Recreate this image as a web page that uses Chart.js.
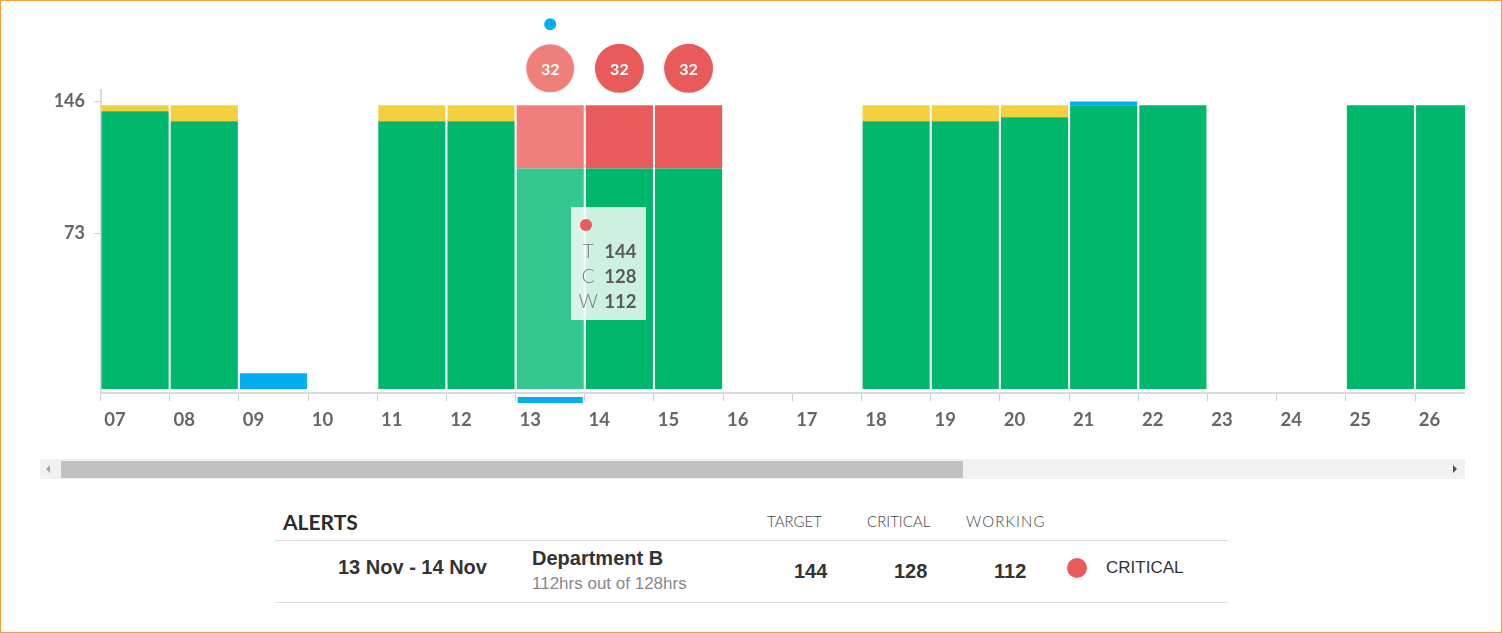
<!DOCTYPE html>
<html><head><meta charset="utf-8">
<script src="https://cdn.jsdelivr.net/npm/chart.js@4.4.1/dist/chart.umd.min.js"></script>
<style>
html,body{margin:0;padding:0;background:#fff;}
body{width:1502px;height:633px;overflow:hidden;position:relative;font-family:Lato,sans-serif;}
#frame{position:absolute;left:0;top:0;width:1500px;height:631px;border:1px solid #F5A03A;pointer-events:none;z-index:20;}
#clip{position:absolute;left:40px;top:0;width:1425px;height:455px;overflow:hidden;}
#c{position:absolute;left:0;top:0;}
#tip{position:absolute;width:75px;height:113px;background:rgba(255,255,255,0.8);z-index:5;display:none;}
#tip .dot{position:absolute;left:9px;top:12px;width:12px;height:12px;border-radius:50%;background:#E95B5B;}
#tip .row{position:absolute;left:0;height:24px;line-height:24px;width:75px;}
#tip .k{position:absolute;left:6px;width:22px;text-align:center;font-weight:300;font-size:19px;color:#777;}
#tip .v{position:absolute;left:33px;font-weight:bold;font-size:18.5px;color:#5a5a5a;}
#track{position:absolute;left:40px;top:459px;width:1425px;height:20px;background:#f1f1f1;}
#thumb{position:absolute;left:61px;top:461px;width:902px;height:17px;background:#c1c1c1;}
#arL{position:absolute;left:46px;top:465px;width:0;height:0;border-top:4px solid transparent;border-bottom:4px solid transparent;border-right:4px solid #a3a3a3;}
#arR{position:absolute;left:1453px;top:465px;width:0;height:0;border-top:4px solid transparent;border-bottom:4px solid transparent;border-left:4px solid #505050;}
.t{position:absolute;white-space:nowrap;}
.hr{position:absolute;left:275px;width:953px;height:1px;background:#dedede;}
.ar{font-family:"Liberation Sans",Arial,sans-serif;}
</style></head><body>
<div id="frame"></div>
<div id="clip"><canvas id="c" width="1450" height="455" style="width:1450px;height:455px"></canvas></div>
<div id="tip">
  <div class="dot"></div>
  <div class="row" style="top:32px"><span class="k">T</span><span class="v" id="tT"></span></div>
  <div class="row" style="top:57px"><span class="k">C</span><span class="v" id="tC"></span></div>
  <div class="row" style="top:82px"><span class="k">W</span><span class="v" id="tW"></span></div>
</div>
<div id="track"></div><div id="thumb"></div><div id="arL"></div><div id="arR"></div>

<div class="t" style="left:283px;top:510px;line-height:24px;font-size:21px;font-weight:bold;color:#2b2b2b;">ALERTS</div>
<div class="t" style="left:767px;top:511px;line-height:20px;font-size:15px;font-weight:300;color:#444;">TARGET</div>
<div class="t" style="left:867px;top:511px;line-height:20px;font-size:15px;font-weight:300;color:#444;">CRITICAL</div>
<div class="t" style="left:966px;top:511px;line-height:20px;font-size:15px;font-weight:300;color:#444;letter-spacing:1.1px;">WORKING</div>
<div class="hr" style="top:540px"></div>
<div class="t ar" style="left:338px;top:555px;line-height:24px;font-size:20px;font-weight:bold;color:#333;">13 Nov - 14 Nov</div>
<div class="t ar" style="left:532px;top:546px;line-height:24px;font-size:20px;font-weight:bold;color:#333;">Department B</div>
<div class="t ar" style="left:532px;top:574px;line-height:20px;font-size:17px;color:#888;">112hrs out of 128hrs</div>
<div class="t ar" style="left:794px;top:559px;line-height:24px;font-size:20px;font-weight:bold;color:#333;">144</div>
<div class="t ar" style="left:894px;top:559px;line-height:24px;font-size:20px;font-weight:bold;color:#333;">128</div>
<div class="t ar" style="left:994px;top:559px;line-height:24px;font-size:20px;font-weight:bold;color:#333;">112</div>
<div style="position:absolute;left:1067px;top:558px;width:20px;height:20px;border-radius:50%;background:#E95B5B;"></div>
<div class="t ar" style="left:1106px;top:558px;line-height:20px;font-size:17px;color:#333;">CRITICAL</div>
<div class="hr" style="top:602px"></div>

<script>
const days      = ['07','08','09','10','11','12','13','14','15','16','17','18','19','20','21','22','23','24','25','26'];
const working   = [141,136,0,0,136,136,112,112,112,0,0,136,136,138,144,144,0,0,144,144];
const shortfall = [3,8,0,0,8,8,0,0,0,0,0,8,8,6,0,0,0,0,0,0];
const critical  = [0,0,0,0,0,0,32,32,32,0,0,0,0,0,0,0,0,0,0,0];
const overtime  = [0,0,8,0,0,0,0,0,0,0,0,0,0,0,2,0,0,0,0,0];
const yTicks    = [73,146];
const targetHours = 144;
const criticalHours = 128;
const selectedDay = '13';

const sel = days.indexOf(selectedDay);
const GREEN='#00B86B', GREEN_L='#34C78F', RED='#E95B5B', RED_L='#F07F7B', YELLOW='#F4D03F', BLUE='#03ADEF';
const FONT='Lato, sans-serif';

const markers = {
  id:'markers',
  afterDatasetsDraw(chart){
    const {ctx, scales:{x, y}, chartArea} = chart;
    ctx.save();
    critical.forEach((v,i)=>{
      if(!v) return;
      const cx = x.getPixelForValue(i);
      const total = working[i]+shortfall[i]+critical[i]+overtime[i];
      const cy = y.getPixelForValue(total) - 37;
      ctx.beginPath(); ctx.arc(cx, cy, 24.5, 0, Math.PI*2);
      ctx.fillStyle = i===sel ? RED_L : RED; ctx.fill();
      if(i===sel){ ctx.strokeStyle='rgba(255,255,255,0.7)'; ctx.lineWidth=1.5; ctx.stroke(); }
      ctx.fillStyle='#fff'; ctx.font='bold 16px '+FONT; ctx.textAlign='center'; ctx.textBaseline='middle';
      ctx.fillText(String(v), cx, cy+1);
    });
    const el = chart.getDatasetMeta(0).data[sel];
    const total = working[sel]+shortfall[sel]+critical[sel]+overtime[sel];
    ctx.beginPath(); ctx.arc(el.x, y.getPixelForValue(total)-81, 6, 0, Math.PI*2);
    ctx.fillStyle=BLUE; ctx.fill();
    ctx.fillRect(el.x - el.width/2 + 1, chartArea.bottom + 4, el.width - 2, 6);
    ctx.restore();
  }
};

function tipHandler({chart, tooltip}){
  const tip = document.getElementById('tip');
  if(!tooltip.dataPoints || !tooltip.dataPoints.length){ tip.style.display='none'; return; }
  const i = tooltip.dataPoints[0].dataIndex;
  const el = tooltip.dataPoints[0].element;
  document.getElementById('tT').textContent = working[i]+shortfall[i]+critical[i];
  document.getElementById('tC').textContent = criticalHours;
  document.getElementById('tW').textContent = working[i];
  const clip = document.getElementById('clip');
  tip.style.left = (clip.offsetLeft + el.x + 21) + 'px';
  tip.style.top = (clip.offsetTop + el.y + 39) + 'px';
  tip.style.display='block';
}

function draw(){
  const chart = new Chart(document.getElementById('c'), {
    type:'bar',
    data:{
      labels: days,
      datasets:[
        {label:'Working', data:working, yAxisID:'y', backgroundColor:c=>c.dataIndex===sel?GREEN_L:GREEN},
        {label:'Shortfall', data:shortfall, yAxisID:'y', backgroundColor:YELLOW},
        {label:'Critical', data:critical, yAxisID:'y', backgroundColor:c=>c.dataIndex===sel?RED_L:RED},
        {label:'Overtime', data:overtime, yAxisID:'y', backgroundColor:BLUE}
      ]
    },
    options:{
      responsive:false, devicePixelRatio:1, animation:false, events:[],
      categoryPercentage:0.97, barPercentage:1,
      layout:{padding:{top:90, right:5.8, left:0, bottom:0}},
      plugins:{legend:{display:false}, tooltip:{enabled:false, external:tipHandler}},
      scales:{
        x:{stacked:true, offset:true,
           grid:{offset:true, drawOnChartArea:false, drawTicks:true, tickLength:8, color:'#cfcfcf', lineWidth:1},
           border:{display:true, color:'#dadada', width:2},
           ticks:{align:'start', labelOffset:-30.8, maxRotation:0, minRotation:0, autoSkip:false, padding:7.5,
                  color:'#666', font:{family:FONT, weight:'bold', size:18.5}},
           afterFit:s=>{s.height=62;}},
        y:{stacked:true, display:false, min:-2, max:151.8},
        y2:{position:'left', min:-15.4, max:152.3,
            afterBuildTicks:s=>{s.ticks = yTicks.map(v=>({value:v}));},
            grid:{drawOnChartArea:false, drawTicks:true, tickLength:6, color:'#cfcfcf'},
            border:{display:true, color:'#dadada', width:2},
            ticks:{padding:9.5, color:'#666', font:{family:FONT, weight:'bold', size:18}},
            afterFit:s=>{s.width=60.5;}}
      }
    },
    plugins:[markers]
  });
  chart.tooltip.setActiveElements([{datasetIndex:0, index:sel}], {x:0, y:0});
}
if (document.fonts && document.fonts.ready) document.fonts.ready.then(draw); else draw();
</script>
</body></html>
